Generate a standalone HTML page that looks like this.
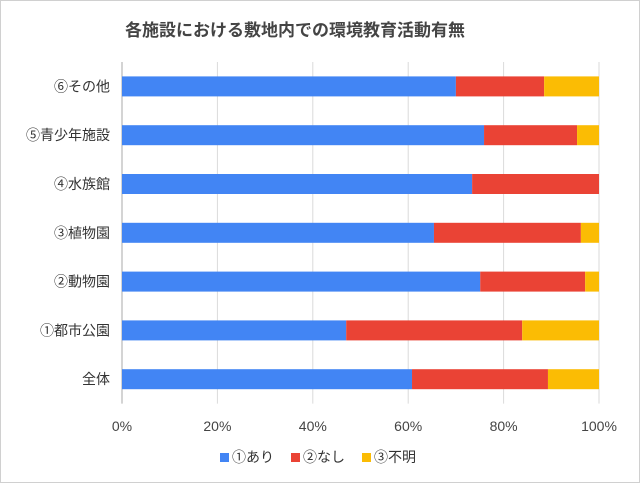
<!DOCTYPE html>
<html><head><meta charset="utf-8"><style>
body{margin:0;background:#fff}
svg{display:block;font-family:"Liberation Sans","Noto Sans CJK JP",sans-serif}
</style></head><body>
<svg id="c" width="640" height="483">
<rect x="0.5" y="0.5" width="639" height="482" fill="#fff" stroke="#d0d0d0"/>
<text x="295" y="36" text-anchor="middle" font-size="17" font-weight="bold" fill="#444">各施設における敷地内での環境教育活動有無</text>
</svg>
<script>
const categories=["⑥その他","⑤青少年施設","④水族館","③植物園","②動物園","①都市公園","全体"];
const seriesNames=["①あり","②なし","③不明"];
const s1=[70.0,75.9,73.4,65.4,75.1,47.0,60.8];
const s2=[18.5,19.5,26.6,30.8,22.0,36.9,28.5];
const s3=[11.5,4.6,0,3.8,2.9,16.1,10.7];
const ticks=[0,20,40,60,80,100];
const tickLabels=["0%","20%","40%","60%","80%","100%"];
const colors=["#4285f4","#ea4335","#fbbc04"];
const svg=document.getElementById('c');const NS="http://www.w3.org/2000/svg";
const x0=122,x1=599,yTop=62,band=48.8;
const X=v=>x0+(x1-x0)*v/100;
const Y=i=>yTop+band*i+band/2;
function el(t,a,p){const e=document.createElementNS(NS,t);for(const k in a)e.setAttribute(k,a[k]);(p||svg).appendChild(e);return e;}
ticks.forEach((t,i)=>{
const g=el('line',{x1:X(t),x2:X(t),y1:yTop,y2:yTop+band*categories.length,stroke:i==0?'#aaa':'#dadada'});


const l=el('text',{x:X(t),y:431,'text-anchor':'middle','font-size':14,fill:'#444'});l.textContent=tickLabels[i];


});
const all=[s1,s2,s3];
categories.forEach((c,i)=>{
let acc=0;
all.forEach((s,j)=>{
const v=s[i];if(v<=0)return;
const r=el('rect',{x:X(acc),y:Y(i)-10,width:X(acc+v)-X(acc),height:20,fill:colors[j]});


acc+=v;
});
const t=el('text',{x:110,y:Y(i)+5,'text-anchor':'end','font-size':14,fill:'#333'});t.textContent=c;


});
const lx=[220,291,362];
seriesNames.forEach((n,j)=>{
const r=el('rect',{x:lx[j],y:453,width:9,height:9,fill:colors[j]});


const t=el('text',{x:lx[j]+12,y:462,'font-size':14,fill:'#333'});t.textContent=n;


});
</script>
</body></html>
